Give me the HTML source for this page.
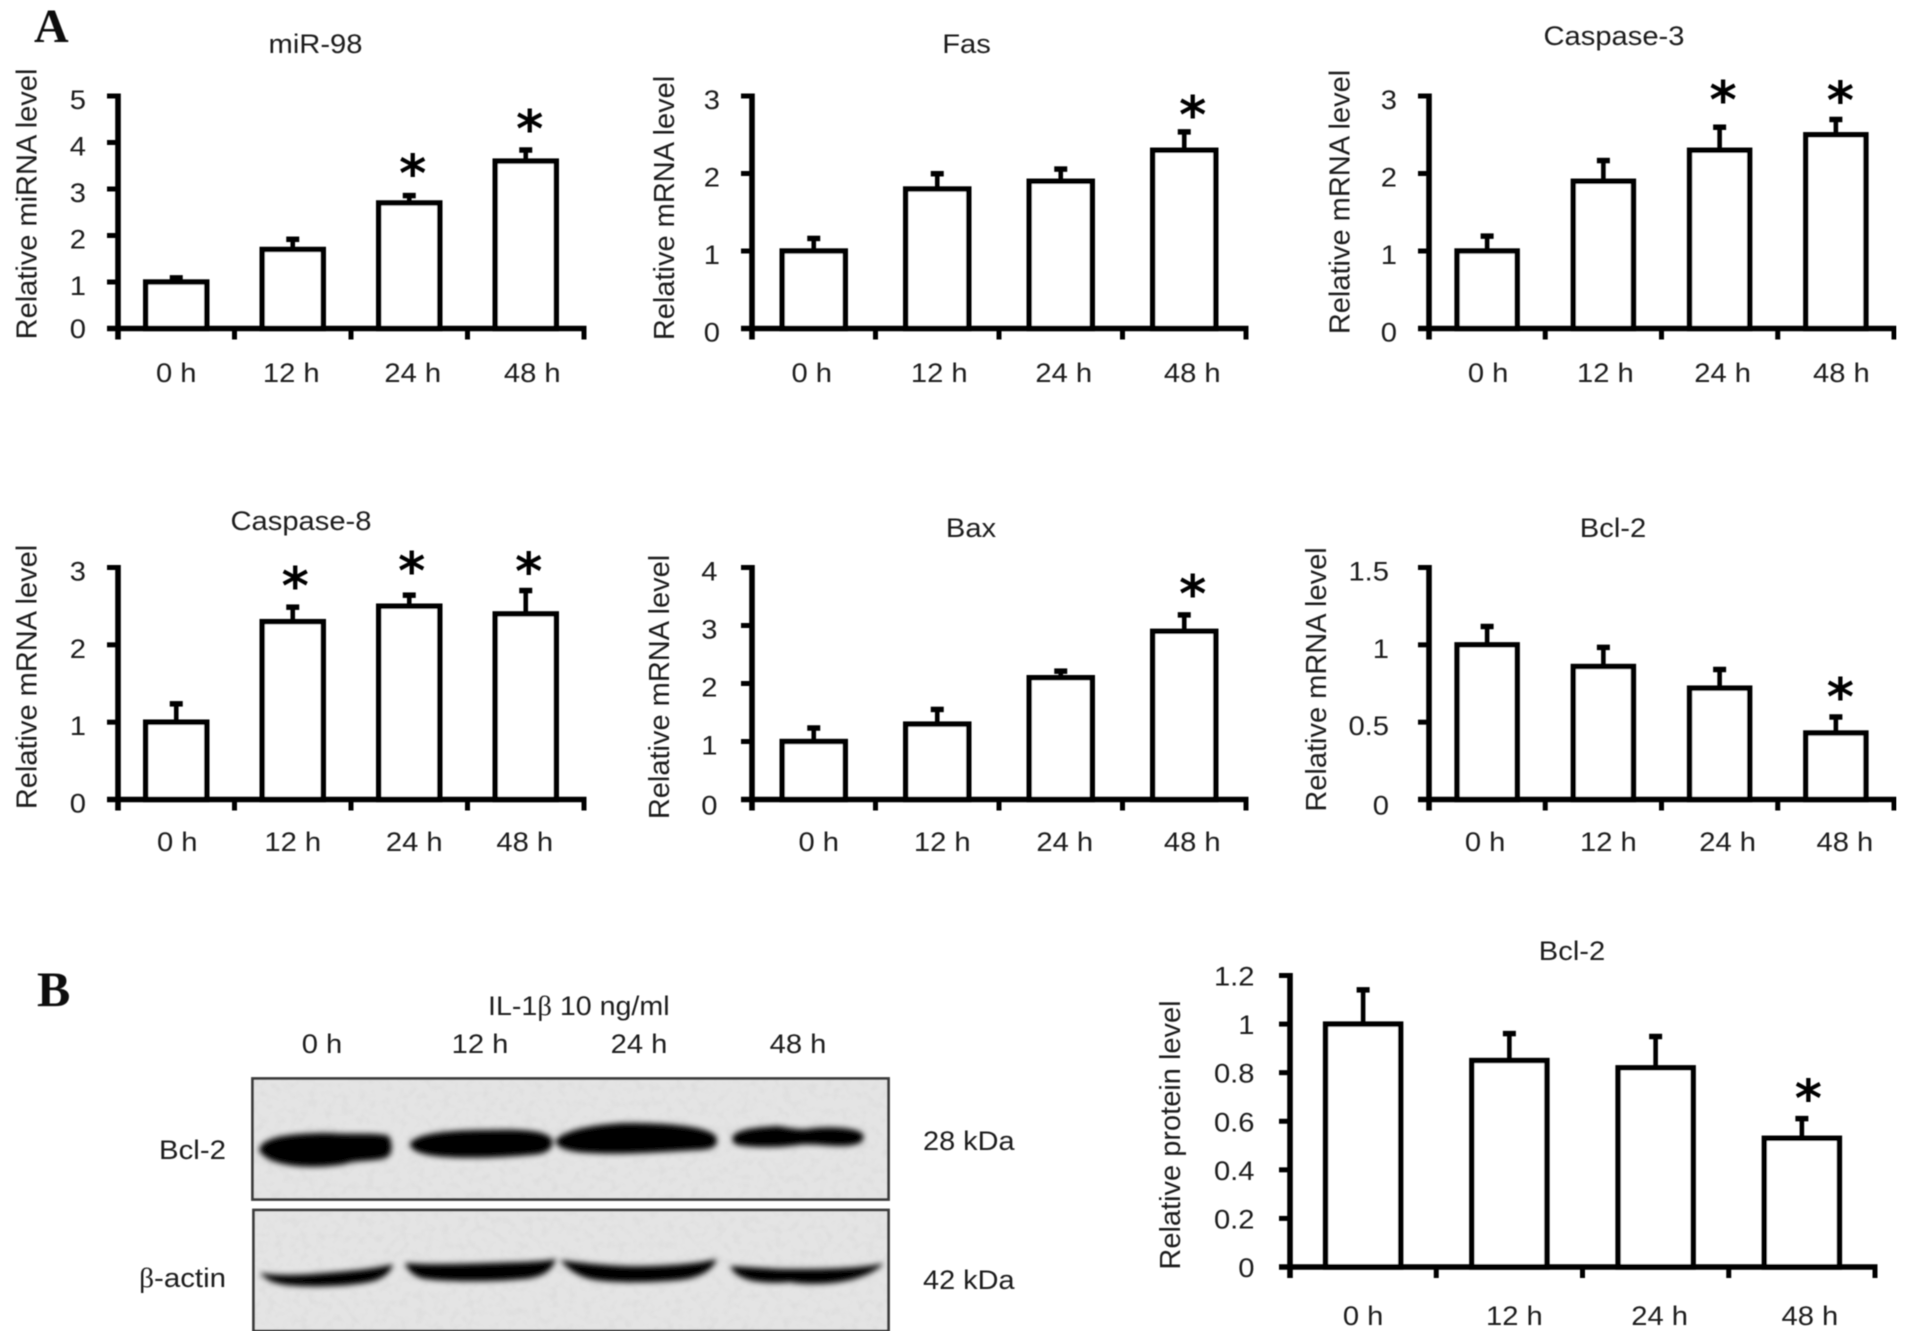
<!DOCTYPE html>
<html>
<head>
<meta charset="utf-8">
<title>miR-98 figure</title>
<style>
html,body{margin:0;padding:0;background:#fff;width:1913px;height:1337px;overflow:hidden}
svg{display:block}
text{font-family:"Liberation Sans",sans-serif;fill:#1c1c1c}
</style>
</head>
<body>
<svg id="fig" xmlns="http://www.w3.org/2000/svg" width="1913" height="1337" viewBox="0 0 1913 1337">
<defs>
<filter id="soft" x="0" y="0" width="100%" height="100%"><feGaussianBlur stdDeviation="0.6"/></filter>
<filter id="bandblur" x="-10%" y="-40%" width="120%" height="180%"><feGaussianBlur stdDeviation="2.8"/></filter>
<filter id="grain" x="0" y="0" width="100%" height="100%">
<feTurbulence type="fractalNoise" baseFrequency="0.12" numOctaves="2" seed="7"/>
<feColorMatrix type="matrix" values="0 0 0 0 0.35  0 0 0 0 0.35  0 0 0 0 0.35  0.9 0 0 0 -0.38"/>
</filter>
</defs>
<rect width="1913" height="1337" fill="#fff"/>
<g id="root" filter="url(#soft)">
<text x="34" y="42" style="font-family:'Liberation Serif',serif;font-weight:bold;font-size:48px;fill:#111">A</text>
<text x="37" y="1006" style="font-family:'Liberation Serif',serif;font-weight:bold;font-size:50px;fill:#111">B</text>

<g>
<text transform="translate(488,1015) scale(1.06,1)" font-size="27">IL-1<tspan style="font-family:'Liberation Serif',serif">β</tspan> 10 ng/ml</text>
<text transform="translate(322,1053) scale(1.08,1)" font-size="27" text-anchor="middle">0 h</text>
<text transform="translate(480,1053) scale(1.08,1)" font-size="27" text-anchor="middle">12 h</text>
<text transform="translate(639,1053) scale(1.08,1)" font-size="27" text-anchor="middle">24 h</text>
<text transform="translate(798,1053) scale(1.08,1)" font-size="27" text-anchor="middle">48 h</text>

<rect x="252.5" y="1078.5" width="636" height="121" fill="#e4e4e4" stroke="#3c3c3c" stroke-width="2.8"/>
<rect x="253.5" y="1210" width="635" height="121" fill="#e4e4e4" stroke="#3c3c3c" stroke-width="2.8"/>
<rect x="254" y="1080" width="633" height="118" filter="url(#grain)" opacity="0.22"/>
<rect x="255" y="1212" width="632" height="118" filter="url(#grain)" opacity="0.22"/>

<g filter="url(#bandblur)" fill="#050505">
<path d="M259,1150 C261,1138 285,1133 330,1133 C350,1135 375,1132 389,1136 C393,1145 393,1154 386,1158 C370,1162 355,1160 345,1164 C320,1169 268,1169 259,1150 Z"/>
<path d="M410,1143 C418,1133 450,1130 490,1130 C520,1129 546,1130 552,1139 C554,1149 548,1154 530,1155 C500,1158 460,1159 435,1156 C420,1154 409,1150 410,1143 Z"/>
<path d="M556,1140 C565,1129 600,1124 625,1123 C660,1123 702,1125 715,1135 C720,1144 716,1149 700,1150 C660,1152 620,1155 590,1153 C570,1152 554,1148 556,1140 Z"/>
<path d="M733,1136 C738,1128 765,1127 778,1126 C790,1128 798,1130 808,1129 C825,1126 856,1127 863,1134 C866,1142 858,1146 840,1146 C825,1146 810,1143 798,1145 C780,1148 745,1148 735,1144 C732,1142 732,1138 733,1136 Z"/>
</g>
<g filter="url(#bandblur)" fill="#050505">
<path d="M260,1273 C280,1276 300,1275 325,1273 C350,1271 375,1269 393,1264 C391,1272 384,1279 370,1282 C345,1287 300,1288 280,1284 C270,1282 264,1278 260,1273 Z"/>
<path d="M405,1263 C430,1265 460,1264 490,1263 C520,1262 540,1262 556,1259 C553,1268 546,1277 525,1279 C490,1282 450,1282 425,1279 C414,1277 407,1270 405,1263 Z"/>
<path d="M560,1260 C590,1264 620,1267 650,1266 C680,1265 700,1263 717,1259 C713,1270 700,1278 680,1280 C650,1283 615,1283 595,1280 C577,1277 567,1268 560,1260 Z"/>
<path d="M730,1266 C750,1267 770,1269 790,1269 C820,1269 860,1269 884,1263 C876,1272 860,1279 840,1282 C820,1285 800,1284 790,1282 C770,1284 750,1282 741,1277 C735,1274 732,1270 730,1266 Z"/>
</g>
<text transform="translate(226,1159) scale(1.09,1)" font-size="27" text-anchor="end">Bcl-2</text>
<text transform="translate(226,1287) scale(1.09,1)" font-size="27" text-anchor="end"><tspan style="font-family:'Liberation Serif',serif">β</tspan>-actin</text>
<text transform="translate(923,1150) scale(1.07,1)" font-size="27">28 kDa</text>
<text transform="translate(923,1289) scale(1.07,1)" font-size="27">42 kDa</text>
</g>
</g>
</svg>
<script>
const categories = ['0 h', '12 h', '24 h', '48 h'];

const mir98Values = [1, 1.7, 2.7, 3.6];
const mir98Errors = [0.11, 0.24, 0.18, 0.26];
const mir98Significant = [false, false, true, true];
const mir98Ticks = [0, 1, 2, 3, 4, 5];
const mir98TickLabels = ['0', '1', '2', '3', '4', '5'];

const fasValues = [1, 1.8, 1.9, 2.3];
const fasErrors = [0.175, 0.21, 0.17, 0.25];
const fasSignificant = [false, false, false, true];
const fasTicks = [0, 1, 2, 3];
const fasTickLabels = ['0', '1', '2', '3'];

const casp3Values = [1, 1.9, 2.3, 2.5];
const casp3Errors = [0.205, 0.28, 0.31, 0.21];
const casp3Significant = [false, false, true, true];
const casp3Ticks = [0, 1, 2, 3];
const casp3TickLabels = ['0', '1', '2', '3'];

const casp8Values = [1, 2.3, 2.5, 2.4];
const casp8Errors = [0.25, 0.2, 0.155, 0.315];
const casp8Significant = [false, true, true, true];
const casp8Ticks = [0, 1, 2, 3];
const casp8TickLabels = ['0', '1', '2', '3'];

const baxValues = [1, 1.3, 2.1, 2.9];
const baxErrors = [0.25, 0.27, 0.13, 0.3];
const baxSignificant = [false, false, false, true];
const baxTicks = [0, 1, 2, 3, 4];
const baxTickLabels = ['0', '1', '2', '3', '4'];

const bcl2MrnaValues = [1, 0.86, 0.72, 0.43];
const bcl2MrnaErrors = [0.125, 0.13, 0.127, 0.11];
const bcl2MrnaSignificant = [false, false, false, true];
const bcl2MrnaTicks = [0, 0.5, 1, 1.5];
const bcl2MrnaTickLabels = ['0', '0.5', '1', '1.5'];

const bcl2ProteinValues = [1, 0.85, 0.82, 0.53];
const bcl2ProteinErrors = [0.145, 0.115, 0.133, 0.085];
const bcl2ProteinSignificant = [false, false, false, true];
const bcl2ProteinTicks = [0, 0.2, 0.4, 0.6, 0.8, 1, 1.2];
const bcl2ProteinTickLabels = ['0', '0.2', '0.4', '0.6', '0.8', '1', '1.2'];

const SVGNS = 'http://www.w3.org/2000/svg';
const root = document.getElementById('root');
const SX = 1.08;
const FONT = 27;

function make(tag, parent, attrs) {
  const el = document.createElementNS(SVGNS, tag);
  for (const k in attrs) el.setAttribute(k, attrs[k]);
  parent.appendChild(el);
  return el;
}

function drawPanel(p) {
  const group = make('g', root, {});
  
  

  const yMax = p.ticks[p.ticks.length - 1];
  const yScale = v => p.yBottom - (v / yMax) * (p.yBottom - p.yTop);
  const band = (p.xEnd - p.x0) / categories.length;
  const xCenter = i => p.x0 + band * (i + 0.5);

  const title = make('text', group, {transform: `translate(${p.titleX},${p.titleY}) scale(${SX},1)`, 'font-size': FONT, 'text-anchor': 'middle'});
  title.textContent = p.title;
  
  

  const yTitle = make('text', group, {transform: `translate(${p.yTitleX},${p.yTitleY}) rotate(-90)`, 'font-size': 29, 'text-anchor': 'middle'});
  yTitle.textContent = p.yTitle;
  
  

  p.values.forEach((v, i) => {
    const cx = xCenter(i);
    const top = yScale(v);
    const errTop = yScale(v + p.errors[i]);

    const stem = make('line', group, {x1: cx, x2: cx, y1: top, y2: errTop, stroke: '#000', 'stroke-width': 4.6});
    
    

    const cap = make('line', group, {x1: cx - 6.5, x2: cx + 6.5, y1: errTop + 1, y2: errTop + 1, stroke: '#000', 'stroke-width': 5.5});
    
    

    const bw = p.barW + 1.5;
    const bar = make('rect', group, {x: cx - bw / 2 + 2.7, y: top, width: bw - 5.4, height: p.yBottom - top, fill: '#fff', stroke: '#000', 'stroke-width': 5.4});
    
    

    if (p.significant[i]) {
      const starY = errTop - p.starLift[i];
      const star = make('text', group, {transform: `translate(${cx + p.starDx[i] - 0.5},${starY + 25})`, 'font-size': 52, 'font-weight': 'bold', 'text-anchor': 'middle', style: 'font-family:"DejaVu Sans",sans-serif;fill:#000'});
      star.textContent = '*';
      
      
    }

    const label = make('text', group, {transform: `translate(${cx + p.labelDx[i]},${p.labelY}) scale(${SX},1)`, 'font-size': FONT, 'text-anchor': 'middle'});
    label.textContent = categories[i];
    
    
  });

  const yAxis = make('line', group, {x1: p.x0, x2: p.x0, y1: p.yTop - 2.5, y2: p.yBottom + 11, stroke: '#000', 'stroke-width': 5.6});
  
  

  const xAxis = make('line', group, {x1: p.x0 - 11, x2: p.xEnd + 2.5, y1: p.yBottom, y2: p.yBottom, stroke: '#000', 'stroke-width': 5.6});
  
  

  p.ticks.forEach((t, i) => {
    const y = yScale(t);
    const tick = make('line', group, {x1: p.x0 - 11, x2: p.x0, y1: y, y2: y, stroke: '#000', 'stroke-width': 5});
    
    

    const label = make('text', group, {transform: `translate(${p.yLabelRight},${y + p.yLabelDy + (t === 0 ? p.yZeroDy : 0) + 9.5}) scale(${SX},1)`, 'font-size': FONT, 'text-anchor': 'end'});
    label.textContent = p.tickLabels[i];
    
    
  });

  for (let i = 0; i <= categories.length; i++) {
    const x = p.x0 + band * i;
    const tick = make('line', group, {x1: x, x2: x, y1: p.yBottom, y2: p.yBottom + 11, stroke: '#000', 'stroke-width': 5});
    
    
  }
}

drawPanel({key: 'mir98', title: 'miR-98', yTitle: 'Relative miRNA level',
  values: mir98Values, errors: mir98Errors, significant: mir98Significant, ticks: mir98Ticks, tickLabels: mir98TickLabels,
  x0: 118, xEnd: 584, yTop: 96, yBottom: 328.5, barW: 65,
  titleX: 315.5, titleY: 53, yTitleX: 36.5, yTitleY: 204, yLabelRight: 86, yLabelDy: 3.5, yZeroDy: -3.5,
  labelY: 382, labelDx: [0, -1.5, 3.5, 6.5], starDx: [0, 0, 4, 4.5], starLift: [0, 0, 28, 27]});

drawPanel({key: 'fas', title: 'Fas', yTitle: 'Relative mRNA level',
  values: fasValues, errors: fasErrors, significant: fasSignificant, ticks: fasTicks, tickLabels: fasTickLabels,
  x0: 752, xEnd: 1246, yTop: 96, yBottom: 328.5, barW: 67,
  titleX: 966.5, titleY: 53, yTitleX: 674, yTitleY: 208, yLabelRight: 720, yLabelDy: 3.5, yZeroDy: 0,
  labelY: 382, labelDx: [-2, 2, 3, 8], starDx: [0, 0, 0, 9], starLift: [0, 0, 0, 23]});

drawPanel({key: 'caspase-3', title: 'Caspase-3', yTitle: 'Relative mRNA level',
  values: casp3Values, errors: casp3Errors, significant: casp3Significant, ticks: casp3Ticks, tickLabels: casp3TickLabels,
  x0: 1429, xEnd: 1894, yTop: 96, yBottom: 328.5, barW: 64,
  titleX: 1614, titleY: 45, yTitleX: 1349.5, yTitleY: 202, yLabelRight: 1397, yLabelDy: 3.5, yZeroDy: 0,
  labelY: 382, labelDx: [1, 2, 3, 5.5], starDx: [0, 0, 4, 5], starLift: [0, 0, 33, 25]});

drawPanel({key: 'caspase-8', title: 'Caspase-8', yTitle: 'Relative mRNA level',
  values: casp8Values, errors: casp8Errors, significant: casp8Significant, ticks: casp8Ticks, tickLabels: casp8TickLabels,
  x0: 118, xEnd: 584, yTop: 567.5, yBottom: 799.5, barW: 65,
  titleX: 301, titleY: 530, yTitleX: 36.5, yTitleY: 677, yLabelRight: 86, yLabelDy: 3.5, yZeroDy: 0,
  labelY: 851, labelDx: [1, 0, 5, -1], starDx: [0, 3, 3, 3.5], starLift: [0, 27, 30, 25]});

drawPanel({key: 'bax', title: 'Bax', yTitle: 'Relative mRNA level',
  values: baxValues, errors: baxErrors, significant: baxSignificant, ticks: baxTicks, tickLabels: baxTickLabels,
  x0: 752, xEnd: 1246, yTop: 567.5, yBottom: 799.5, barW: 67,
  titleX: 971, titleY: 537, yTitleX: 669, yTitleY: 687, yLabelRight: 717.5, yLabelDy: 3.5, yZeroDy: 2,
  labelY: 851, labelDx: [5, 5, 4, 8], starDx: [0, 0, 0, 9], starLift: [0, 0, 0, 27]});

drawPanel({key: 'bcl-2-mrna', title: 'Bcl-2', yTitle: 'Relative mRNA level',
  values: bcl2MrnaValues, errors: bcl2MrnaErrors, significant: bcl2MrnaSignificant, ticks: bcl2MrnaTicks, tickLabels: bcl2MrnaTickLabels,
  x0: 1429, xEnd: 1894, yTop: 567.5, yBottom: 799.5, barW: 64,
  titleX: 1613, titleY: 537, yTitleX: 1326, yTitleY: 679.5, yLabelRight: 1389, yLabelDy: 3.5, yZeroDy: 2,
  labelY: 851, labelDx: [-2, 5, 8, 9], starDx: [0, 0, 0, 5], starLift: [0, 0, 0, 26]});

drawPanel({key: 'bcl-2-protein', title: 'Bcl-2', yTitle: 'Relative protein level',
  values: bcl2ProteinValues, errors: bcl2ProteinErrors, significant: bcl2ProteinSignificant, ticks: bcl2ProteinTicks, tickLabels: bcl2ProteinTickLabels,
  x0: 1290, xEnd: 1875, yTop: 975.5, yBottom: 1267, barW: 79,
  titleX: 1572, titleY: 960, yTitleX: 1180, yTitleY: 1135, yLabelRight: 1254.5, yLabelDy: 0.5, yZeroDy: 0,
  labelY: 1325, labelDx: [0, 5, 4, 8], starDx: [0, 0, 0, 7], starLift: [0, 0, 0, 26]});
</script>
</body>
</html>
